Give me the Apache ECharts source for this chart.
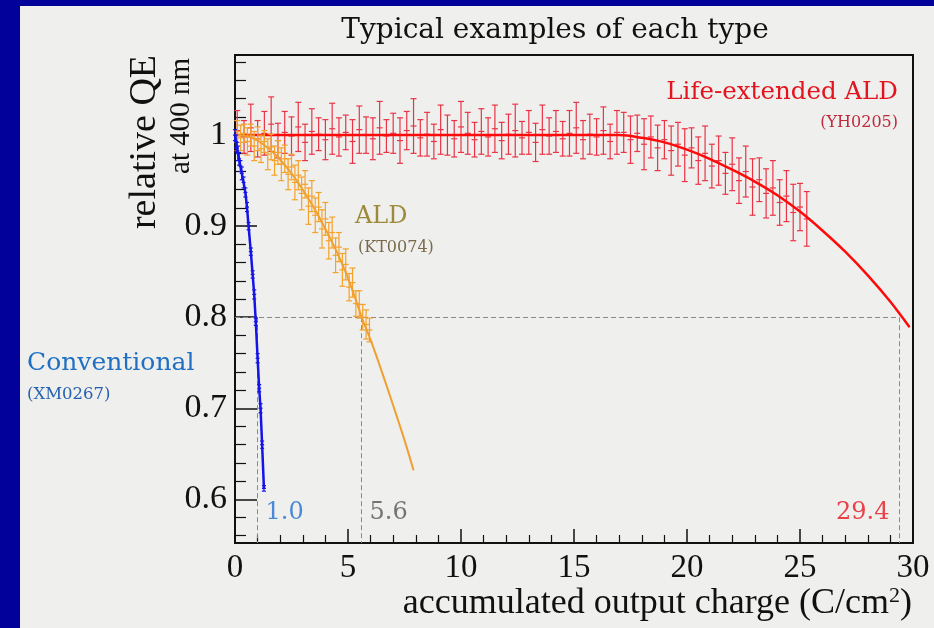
<!DOCTYPE html>
<html>
<head>
<meta charset="utf-8">
<script src="https://cdn.jsdelivr.net/npm/echarts@6/dist/echarts.min.js"></script>
<style>
html,body{margin:0;padding:0;background:#02029a;}
#c{width:934px;height:628px;}
</style>
</head>
<body>
<div id="c"></div>
<script>
// ---------- data ----------
const titleText = 'Typical examples of each type';
const xTicks = [0, 5, 10, 15, 20, 25, 30];
const yTicks = [0.6, 0.7, 0.8, 0.9, 1];

// Conventional (XM0267)
const convX = [0,0.04,0.08,0.13,0.18,0.24,0.3,0.38,0.46,0.53,0.6,0.7,0.78,0.85,0.92,1.0,1.07,1.13,1.2,1.28];
const convY = [1.0,0.993,0.986,0.98,0.974,0.966,0.958,0.948,0.937,0.921,0.9,0.872,0.847,0.825,0.795,0.755,0.722,0.7,0.66,0.612];
const convErr = [0.006,0.007,0.006,0.008,0.007,0.006,0.007,0.006,0.005,0.005,0.004,0.004,0.004,0.005,0.004,0.005,0.004,0.005,0.004,0.003];

// ALD (KT0074) measured points
const aldX = [0.10,0.25,0.40,0.55,0.70,0.85,1.00,1.15,1.30,1.45,1.60,1.75,1.90,2.05,2.20,2.35,2.50,2.65,2.80,2.95,3.10,3.25,3.40,3.55,3.70,3.85,4.00,4.15,4.30,4.45,4.60,4.75,4.90,5.05,5.20,5.35,5.50,5.65,5.80,5.95];
const aldY = [1.004,0.997,1.002,0.993,1.000,0.988,0.996,0.985,0.993,0.979,0.987,0.972,0.981,0.968,0.974,0.957,0.965,0.948,0.956,0.936,0.946,0.922,0.933,0.912,0.921,0.897,0.908,0.884,0.893,0.868,0.877,0.852,0.858,0.833,0.838,0.815,0.814,0.800,0.792,0.786];
const aldErr = [0.012,0.014,0.010,0.015,0.012,0.016,0.013,0.015,0.012,0.017,0.014,0.016,0.013,0.018,0.015,0.017,0.014,0.019,0.016,0.018,0.015,0.020,0.017,0.019,0.016,0.021,0.018,0.020,0.017,0.019,0.016,0.018,0.017,0.015,0.016,0.014,0.015,0.014,0.016,0.013];
// ALD fit
const aldFitX = [0,0.5,1,1.5,2,2.5,3,3.5,4,4.5,5,5.5,5.6,6,6.5,7,7.5,7.9];
const aldFitY = [1.0,0.999,0.994,0.985,0.973,0.958,0.94,0.92,0.897,0.872,0.843,0.808,0.80,0.775,0.74,0.703,0.665,0.632];

// Life-extended ALD (YH0205) measured points
const lifeX = [0.1,0.4,0.7,1.0,1.3,1.6,1.9,2.2,2.5,2.8,3.1,3.4,3.7,4.0,4.3,4.6,4.9,5.2,5.5,5.8,6.1,6.4,6.7,7.0,7.3,7.6,7.9,8.2,8.5,8.8,9.1,9.4,9.7,10.0,10.3,10.6,10.9,11.2,11.5,11.8,12.1,12.4,12.7,13.0,13.3,13.6,13.9,14.2,14.5,14.8,15.1,15.4,15.7,16.0,16.3,16.6,16.9,17.2,17.5,17.8,18.1,18.4,18.7,19.0,19.3,19.6,19.9,20.2,20.5,20.8,21.1,21.4,21.7,22.0,22.3,22.6,22.9,23.2,23.5,23.8,24.1,24.4,24.7,25.0,25.3];
const lifeY = [1.005,0.998,1.008,0.996,1.002,1.012,0.994,1.003,0.999,1.009,
  0.992,1.004,1.001,0.995,1.007,0.998,1.003,0.993,1.006,1.000,
  0.996,1.008,0.999,1.002,0.994,1.005,1.010,0.997,1.001,0.993,
  1.006,1.000,0.996,1.009,1.002,0.995,1.004,0.998,1.007,0.994,
  1.001,1.005,0.997,1.003,0.992,1.006,0.999,1.004,0.996,1.002,
  1.008,0.995,1.001,0.998,1.005,0.993,1.003,
  1.003,0.995,1.002,0.990,0.998,0.986,0.995,0.983,0.990,0.978,
  0.986,0.972,0.980,0.966,0.972,0.958,0.968,0.950,0.960,0.943,
  0.951,0.936,0.942,0.926,0.933,0.915,0.921,0.908];
const lifeErr = [0.022,0.018,0.026,0.020,0.024,0.030,0.019,0.023,0.021,0.027,
  0.020,0.025,0.018,0.022,0.028,0.021,0.019,0.024,0.026,0.020,
  0.023,0.029,0.018,0.022,0.025,0.021,0.030,0.020,0.024,0.019,
  0.027,0.022,0.020,0.028,0.023,0.019,0.025,0.021,0.026,0.020,
  0.022,0.029,0.018,0.024,0.021,0.027,0.020,0.023,0.019,0.025,
  0.028,0.021,0.022,0.020,0.026,0.019,0.024,
  0.022,0.026,0.020,0.028,0.023,0.025,0.021,0.027,0.024,0.029,
  0.022,0.026,0.030,0.024,0.027,0.023,0.029,0.025,0.028,0.031,
  0.024,0.027,0.030,0.025,0.028,0.031,0.026,0.030];
// Life-extended fit
const lifeFitX = [0,17,18,19,20,21,22,23,24,25,26,27,28,29,29.85];
const lifeFitY = [1.0,1.0,0.997,0.992,0.984,0.974,0.962,0.949,0.934,0.916,0.895,0.872,0.846,0.817,0.789];

// 80% QE thresholds
const thresholdQE = 0.8;
const thresholdX = [1.0, 5.6, 29.4];
const thresholdLabels = ['1.0', '5.6', '29.4'];

// ---------- chart ----------
const yMin = 0.552, yMax = 1.088;
const zip = (xs, ys, es) => xs.map((x, i) => es ? [x, ys[i], es[i]] : [x, ys[i]]);

function errBars(color, cap, withCenter) {
  return function (params, api) {
    const x = api.value(0), y = api.value(1), e = api.value(2);
    const t = api.coord([x, y + e]), b = api.coord([x, y - e]), c = api.coord([x, y]);
    const st = { stroke: color, lineWidth: 1.2 };
    const ch = [
      { type: 'line', shape: { x1: t[0], y1: t[1], x2: b[0], y2: b[1] }, style: st },
      { type: 'line', shape: { x1: t[0] - cap, y1: t[1], x2: t[0] + cap, y2: t[1] }, style: st },
      { type: 'line', shape: { x1: b[0] - cap, y1: b[1], x2: b[0] + cap, y2: b[1] }, style: st }
    ];
    if (withCenter) ch.push({ type: 'line', shape: { x1: c[0] - cap, y1: c[1], x2: c[0] + cap, y2: c[1] }, style: st });
    return { type: 'group', children: ch };
  };
}

const serifAxis = '"Liberation Serif", "Times New Roman", serif';
const serifNote = '"DejaVu Serif", "Liberation Serif", serif';

const colConvLine = '#1414e6';
const colAld = '#f5a22a';
const colAldLine = '#f0a032';
const colLifeBar = '#ea3446';
const colLifeLine = '#ff0a0a';
const guide = '#8a8a8a';

const guideLines = [
  [{ coord: [0, thresholdQE] }, { coord: [thresholdX[2], thresholdQE] }]
].concat(thresholdX.map(v => [{ coord: [v, thresholdQE] }, { coord: [v, yMin] }]));

const option = {
  animation: false,
  backgroundColor: 'transparent',
  grid: { left: 235, right: 21, top: 55, bottom: 85, show: true, borderColor: '#111', borderWidth: 2, backgroundColor: 'transparent' },
  xAxis: {
    type: 'value', min: 0, max: 30, interval: 5,
    axisLine: { show: true, lineStyle: { color: '#111', width: 2 } },
    axisTick: { show: true, inside: true, length: 14, lineStyle: { color: '#111', width: 1.5 } },
    minorTick: { show: true, splitNumber: 5, length: 8, lineStyle: { color: '#111', width: 1.2 } },
    splitLine: { show: false },
    axisLabel: { fontFamily: serifAxis, fontSize: 33, color: '#111', margin: 9,
      formatter: v => (xTicks.indexOf(v) >= 0 ? String(v) : '') }
  },
  yAxis: {
    type: 'value', min: yMin, max: yMax, splitNumber: 5,
    axisLine: { show: true, lineStyle: { color: '#111', width: 2 } },
    axisTick: { show: true, inside: true, length: 22, lineStyle: { color: '#111', width: 1.5 } },
    minorTick: { show: true, splitNumber: 5, length: 11, lineStyle: { color: '#111', width: 1.2 } },
    splitLine: { show: false },
    axisLabel: { fontFamily: serifAxis, fontSize: 34, color: '#111', margin: 8, showMinLabel: false, showMaxLabel: false,
      formatter: v => {
        const k = yTicks.find(t => Math.abs(t - v) < 1e-6);
        return k === undefined ? '' : String(k);
      } }
  },
  graphic: [
    { type: 'rect', z: -10, shape: { x: 20, y: 6, width: 914, height: 622 }, style: { fill: '#efefed' } },
    { type: 'text', x: 555, y: 45, z: 10, style: { text: titleText, fontFamily: serifNote, fontSize: 28, fill: '#111', align: 'center', verticalAlign: 'bottom' } },
    { type: 'text', x: 164, y: 142, rotation: Math.PI / 2, z: 10,
      style: { text: 'relative QE', fontFamily: serifAxis, fontSize: 38, fill: '#111', align: 'center', verticalAlign: 'bottom' } },
    { type: 'text', x: 196, y: 116, rotation: Math.PI / 2, z: 10,
      style: { text: 'at 400 nm', fontFamily: serifAxis, fontSize: 29, fill: '#111', align: 'center', verticalAlign: 'bottom' } },
    { type: 'text', x: 912, y: 623, z: 10,
      style: { text: '{a|accumulated output charge (C/cm}{s|2}{a|)}', align: 'right', verticalAlign: 'bottom',
        rich: { a: { fontFamily: serifAxis, fontSize: 36, fill: '#111' }, s: { fontFamily: serifAxis, fontSize: 22, fill: '#111', verticalAlign: 'top', padding: [0, 0, 16, 0] } } } },
    { type: 'text', x: 898, y: 105, z: 10, style: { text: 'Life-extended ALD', fontFamily: serifNote, fontSize: 24.5, fill: '#e3141e', align: 'right', verticalAlign: 'bottom' } },
    { type: 'text', x: 898, y: 131, z: 10, style: { text: '(YH0205)', fontFamily: serifNote, fontSize: 16, fill: '#c0283c', align: 'right', verticalAlign: 'bottom' } },
    { type: 'text', x: 355, y: 229, z: 10, style: { text: 'ALD', fontFamily: serifNote, fontSize: 24, fill: '#9d8a3a', align: 'left', verticalAlign: 'bottom' } },
    { type: 'text', x: 358, y: 256, z: 10, style: { text: '(KT0074)', fontFamily: serifNote, fontSize: 16, fill: '#7a6a4a', align: 'left', verticalAlign: 'bottom' } },
    { type: 'text', x: 27, y: 376, z: 10, style: { text: 'Conventional', fontFamily: serifNote, fontSize: 25, fill: '#1f70c4', align: 'left', verticalAlign: 'bottom' } },
    { type: 'text', x: 27, y: 403, z: 10, style: { text: '(XM0267)', fontFamily: serifNote, fontSize: 16.5, fill: '#2560b0', align: 'left', verticalAlign: 'bottom' } }
  ],
  series: [
    { type: 'line', data: [], silent: true, symbol: 'none',
      markLine: { silent: true, symbol: ['none', 'none'], label: { show: false },
        lineStyle: { color: guide, width: 1, type: [5, 3] }, data: guideLines } },
    { type: 'custom', renderItem: errBars(colLifeBar, 3, true), data: zip(lifeX, lifeY, lifeErr), z: 3, silent: true },
    { type: 'line', data: zip(lifeFitX, lifeFitY), smooth: 0.3, symbol: 'none', lineStyle: { color: colLifeLine, width: 2.5 }, z: 4, silent: true },
    { type: 'custom', renderItem: errBars(colAld, 3, true), data: zip(aldX, aldY, aldErr), z: 5, silent: true },
    { type: 'line', data: zip(aldFitX, aldFitY), smooth: 0.3, symbol: 'none', lineStyle: { color: colAldLine, width: 2 }, z: 6, silent: true },
    { type: 'custom', renderItem: errBars(colConvLine, 2, true), data: zip(convX, convY, convErr), z: 7, silent: true },
    { type: 'line', data: zip(convX, convY), symbol: 'none', lineStyle: { color: colConvLine, width: 2.5 }, z: 8, silent: true },
    { type: 'scatter', symbolSize: 0, silent: true, z: 9,
      data: thresholdX.map((v, i) => ({ value: [v, 0.585],
        label: { show: true, formatter: thresholdLabels[i], position: i === 2 ? 'left' : 'right', distance: i === 2 ? 10 : 8,
          fontFamily: serifNote, fontSize: 24, color: ['#1f6fd0', '#555555', '#e8141e'][i] } })) }
  ]
};

const chart = echarts.init(document.getElementById('c'));
chart.setOption(option);
</script>
</body>
</html>
